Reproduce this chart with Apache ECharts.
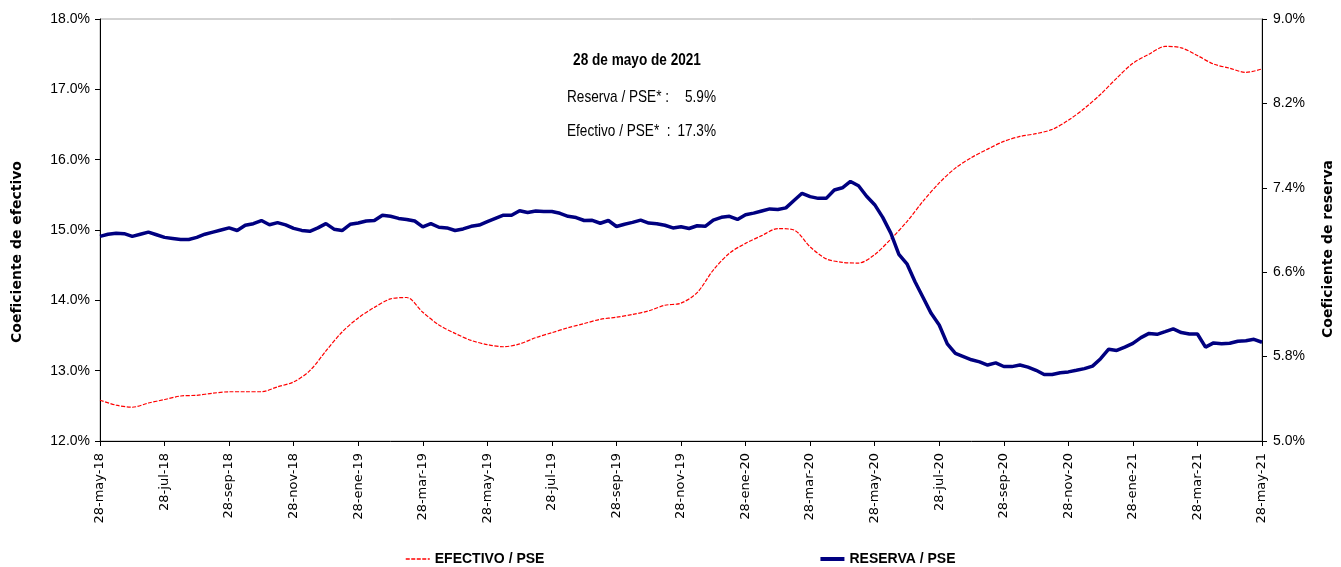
<!DOCTYPE html>
<html lang="es">
<head>
  <meta charset="UTF-8">
  <title>Coeficiente de efectivo y reserva</title>
  <style>
    html, body { margin: 0; padding: 0; background: #fff; }
    #chart { width: 1341px; height: 567px; }
  </style>
</head>
<body>
  <div id="chart"></div>
  <script src="https://cdn.jsdelivr.net/npm/echarts@6/dist/echarts.min.js"></script>
  <script>
    const chart = echarts.init(document.getElementById('chart'));
    const sans = "'Liberation Sans', Arial, sans-serif";

    // etiquetas del eje x, cada 8 pasos (≈ 2 meses)
    const tickLabels = ['28-may-18', '28-jul-18', '28-sep-18', '28-nov-18', '28-ene-19', '28-mar-19',
      '28-may-19', '28-jul-19', '28-sep-19', '28-nov-19', '28-ene-20', '28-mar-20', '28-may-20',
      '28-jul-20', '28-sep-20', '28-nov-20', '28-ene-21', '28-mar-21', '28-may-21'];

    // efectivo / PSE (%), cada quincena (paso 2)
    const efectivo = [12.58, 12.51, 12.48, 12.54, 12.59, 12.64, 12.65, 12.68, 12.70, 12.70,
      12.70, 12.77, 12.84, 13.00, 13.28, 13.55, 13.75, 13.90, 14.02, 14.04,
      13.83, 13.65, 13.53, 13.43, 13.37, 13.34, 13.38, 13.47, 13.54, 13.61,
      13.67, 13.73, 13.76, 13.80, 13.85, 13.93, 13.96, 14.11, 14.43, 14.67,
      14.81, 14.92, 15.02, 15.00, 14.76, 14.59, 14.54, 14.53, 14.65, 14.87,
      15.12, 15.41, 15.67, 15.88, 16.03, 16.15, 16.26, 16.33, 16.37, 16.43,
      16.56, 16.73, 16.93, 17.16, 17.37, 17.50, 17.61, 17.59, 17.48, 17.36,
      17.30, 17.24, 17.29];

    // reserva / PSE (%), semanal (paso 1)
    const reserva = [6.94, 6.96, 6.97, 6.965, 6.94, 6.96, 6.98, 6.955, 6.93, 6.92,
      6.91, 6.91, 6.93, 6.96, 6.98, 7.00, 7.02, 6.995, 7.045, 7.06,
      7.09, 7.05, 7.07, 7.048, 7.015, 6.996, 6.988, 7.02, 7.06, 7.008,
      6.995, 7.054, 7.067, 7.085, 7.09, 7.14, 7.13, 7.11, 7.10, 7.085,
      7.03, 7.06, 7.026, 7.02, 6.995, 7.01, 7.035, 7.047, 7.08, 7.11,
      7.14, 7.139, 7.183, 7.166, 7.18, 7.175, 7.175, 7.158, 7.13, 7.118,
      7.09, 7.092, 7.064, 7.09, 7.033, 7.055, 7.072, 7.094, 7.066, 7.06,
      7.045, 7.02, 7.03, 7.014, 7.04, 7.035, 7.094, 7.12, 7.13, 7.10,
      7.145, 7.16, 7.18, 7.20, 7.195, 7.21, 7.28, 7.348, 7.316, 7.30,
      7.30, 7.379, 7.40, 7.46, 7.42, 7.32, 7.24, 7.12, 6.97, 6.77,
      6.68, 6.51, 6.36, 6.21, 6.10, 5.92, 5.83, 5.80, 5.77, 5.75,
      5.72, 5.74, 5.706, 5.705, 5.72, 5.70, 5.67, 5.63, 5.63, 5.647,
      5.655, 5.67, 5.686, 5.71, 5.78, 5.87, 5.858, 5.89, 5.925, 5.98,
      6.02, 6.011, 6.036, 6.062, 6.028, 6.014, 6.014, 5.89, 5.93, 5.922,
      5.926, 5.945, 5.951, 5.964, 5.936];

    const lastRes = reserva[reserva.length - 1].toFixed(1) + '%';
    const lastEf = efectivo[efectivo.length - 1].toFixed(1) + '%';

    // texto estrecho (tipo Arial Narrow) a base de escalar en x
    const note = (text, x, y, align, bold) => ({
      type: 'text', x: x, y: y, scaleX: 0.8,
      style: { text: text, font: (bold ? 'bold ' : '') + '17px ' + sans, fill: '#000',
        textAlign: align, textVerticalAlign: 'middle' }
    });
    const axisName = (text, x, y) => ({
      type: 'text', x: x, y: y, rotation: Math.PI / 2,
      style: { text: text, font: 'bold 14px "DejaVu Sans"', fill: '#000',
        textAlign: 'center', textVerticalAlign: 'middle' }
    });

    const option = {
      animation: false,
      backgroundColor: '#fff',
      grid: {
        left: 100, right: 79, top: 19, bottom: 126,
        show: true, borderColor: '#a6a6a6', borderWidth: 1
      },
      legend: {
        left: 405, top: 552, padding: 0, itemGap: 274, itemWidth: 24, itemHeight: 14,
        itemStyle: { opacity: 0 },
        textStyle: { fontFamily: sans, fontWeight: 'bold', fontSize: 14, color: '#000' },
        data: [
          { name: 'EFECTIVO / PSE', lineStyle: { width: 1.5 } },
          { name: 'RESERVA / PSE', lineStyle: { width: 4 } }
        ]
      },
      xAxis: {
        type: 'value', min: 0, max: 144, interval: 8,
        axisLine: { lineStyle: { color: '#000', width: 1 } },
        axisTick: { show: true, length: 5, lineStyle: { color: '#000' } },
        splitLine: { show: false },
        axisLabel: {
          rotate: 90, margin: 12, color: '#000',
          fontFamily: 'DejaVu Sans', fontSize: 13,
          formatter: v => tickLabels[v / 8]
        }
      },
      yAxis: [{
        type: 'value', min: 12, max: 18, interval: 1,
        axisLine: { show: true, lineStyle: { color: '#000', width: 1 } },
        axisTick: { show: true, length: 5, lineStyle: { color: '#000' } },
        splitLine: { show: false },
        axisLabel: { color: '#000', fontFamily: sans, fontSize: 14, margin: 10,
          formatter: v => v.toFixed(1) + '%' }
      }, {
        type: 'value', min: 5, max: 9, interval: 0.8, position: 'right',
        axisLine: { show: true, lineStyle: { color: '#000', width: 1 } },
        axisTick: { show: true, length: 5, lineStyle: { color: '#000' } },
        splitLine: { show: false },
        axisLabel: { color: '#000', fontFamily: sans, fontSize: 14, margin: 11,
          formatter: v => v.toFixed(1) + '%' }
      }],
      graphic: [
        axisName('Coeficiente de efectivo', 17, 252),
        axisName('Coeficiente de reserva', 1328, 249),
        note('28 de mayo de 2021', 637, 60, 'center', true),
        note('Reserva / PSE* :', 567, 97, 'left'),
        note(lastRes, 716, 97, 'right'),
        note('Efectivo / PSE*  :', 567, 131, 'left'),
        note(lastEf, 716, 131, 'right')
      ],
      series: [{
        name: 'EFECTIVO / PSE',
        type: 'line', yAxisIndex: 0, symbol: 'none', smooth: 0.3,
        lineStyle: { color: '#ff0000', width: 1.2, type: [4, 1.5] },
        itemStyle: { color: '#ff0000' },
        data: efectivo.map((v, i) => [i * 2, v])
      }, {
        name: 'RESERVA / PSE',
        type: 'line', yAxisIndex: 1, symbol: 'none',
        lineStyle: { color: '#000080', width: 3.5 },
        itemStyle: { color: '#000080' },
        data: reserva.map((v, i) => [i, v])
      }]
    };
    chart.setOption(option);
  </script>
</body>
</html>
